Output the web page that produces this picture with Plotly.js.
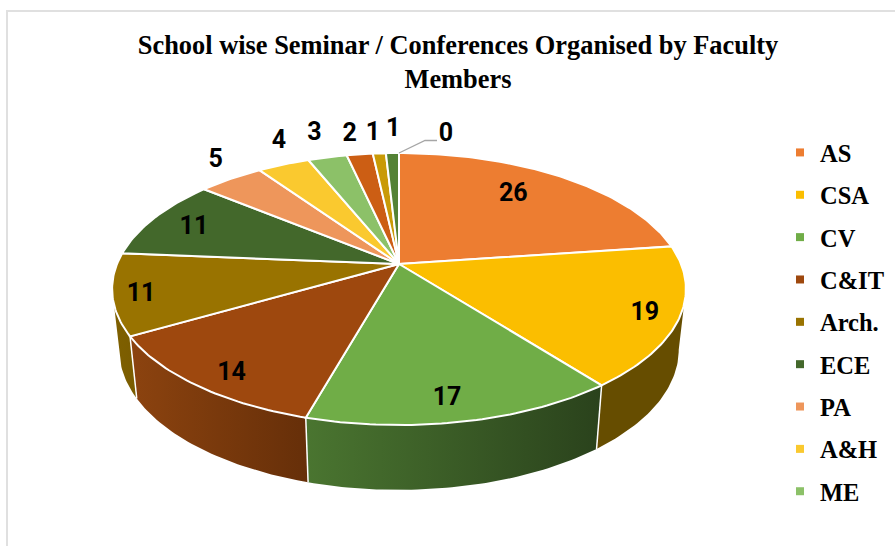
<!DOCTYPE html>
<html><head><meta charset="utf-8">
<script src="https://cdn.plot.ly/plotly-3.0.1.min.js"></script>
<style>html,body{margin:0;padding:0;background:#fff}#c{width:895px;height:546px}</style>
</head><body><div id="c"></div>
<script>
// ---- data ----
const chartTitle = "School wise Seminar / Conferences Organised by Faculty<br>Members";
const categories = ["AS","CSA","CV","C&IT","Arch.","ECE","PA","A&H","ME"];
const values = [26,19,17,14,11,11,5,4,3,2,1,1,0];
// ---- styling ----
const topColors = ["#ED7D31","#FBBE00","#70AD47","#9E480E","#997300","#43682B","#EE965B","#FAC92F","#8CC168","#CC5E14","#C99A06","#548235","#548235"];
const wallColors = {1:["#664D00","#664D00"],2:["#4A7530","#2A421C"],3:["#8C430F","#662F09"],4:["#7F6000","#7A5C00"]};
// label placement: [radius fraction, dx, dy]
const labelPlace = [[.72,-7,-4],[.9,-5,2],[.86,-7,3],[.87,5,6],[.89,-4,4],[.83,0,3],
 [1,-15,-18],[1,-4.5,-23],[1,-13,-24],[1,-10,-20],[1,-6.5,-20],[1,0.7,-23],[1,47,-18]];
// ---- projection of the tilted disc ----
const CX=399, CY=264, RX=282, RY=131.4, PERSP=0.184;
const BOTTOM_DY=60, BOTTOM_SX=0.975, BOTTOM_SY=1.03;
const total = values.reduce((a,b)=>a+b,0);
function proj(deg,f){
  const a=deg*Math.PI/180, u=f*Math.sin(a), v=-f*Math.cos(a), d=1-PERSP*v;
  return [RX*u/d, RY*v/d];
}
const topPt=(deg,f=1)=>{const p=proj(deg,f);return [CX+p[0],CY+p[1]];};
const botPt=(deg)=>{const p=proj(deg,1);return [CX+p[0]*BOTTOM_SX,CY+BOTTOM_DY+p[1]*BOTTOM_SY];};
function arc(fn,a0,a1){const n=Math.max(2,Math.ceil(Math.abs(a1-a0)));const r=[];for(let i=0;i<=n;i++)r.push(fn(a0+(a1-a0)*i/n));return r;}
// silhouette angles: where the disc outline is widest (cos a = -PERSP)
const SIL_R=Math.acos(-PERSP)*180/Math.PI, SIL_L=360-SIL_R;

let cum=0; const starts=[],ends=[],mids=[];
values.forEach(v=>{starts.push(cum/total*360);cum+=v;ends.push(cum/total*360);mids.push((starts[starts.length-1]+ends[ends.length-1])/2);});

const traces=[];
// side walls
const seamX=[],seamY=[];
Object.keys(wallColors).forEach(k=>{
  const i=+k, a0=Math.max(starts[i],SIL_R), a1=Math.min(ends[i],SIL_L);
  const pts=arc(topPt,a0,a1).concat(arc(botPt,a1,a0));
  pts.push(pts[0]);
  traces.push({type:"scatter",mode:"lines",x:pts.map(p=>p[0]),y:pts.map(p=>p[1]),fill:"toself",
    line:{width:0,color:wallColors[k][0]},
    fillgradient:{type:"horizontal",colorscale:[[0,wallColors[k][0]],[1,wallColors[k][1]]]},
    hoverinfo:"skip",showlegend:false});
  if(ends[i]<SIL_L){const a=topPt(ends[i]),b=botPt(ends[i]);
  seamX.push(a[0],b[0],null);seamY.push(a[1],b[1],null);}
});
traces.push({type:"scatter",mode:"lines",x:seamX,y:seamY,line:{color:"#fff",width:1.5},hoverinfo:"skip",showlegend:false});
// top faces
values.forEach((v,i)=>{
  if(v<=0)return;
  const pts=[[CX,CY]].concat(arc(topPt,starts[i],ends[i]));pts.push([CX,CY]);
  traces.push({type:"scatter",mode:"lines",x:pts.map(p=>p[0]),y:pts.map(p=>p[1]),fill:"toself",fillcolor:topColors[i],
    line:{color:"#fff",width:2},hoverinfo:"skip",showlegend:false});
});
// leader of the 0 label
const zeroAt=topPt(mids[12]);
traces.push({type:"scatter",mode:"lines",x:[zeroAt[0],zeroAt[0]+26,zeroAt[0]+38],y:[zeroAt[1],zeroAt[1]-12.5,zeroAt[1]-12.5],
  line:{color:"#A6A6A6",width:1.3},hoverinfo:"skip",showlegend:false});
// value labels
const lp=values.map((v,i)=>{const p=topPt(mids[i],labelPlace[i][0]);return [p[0]+labelPlace[i][1],p[1]+labelPlace[i][2]];});
traces.push({type:"scatter",mode:"text",x:lp.map(p=>p[0]),y:lp.map(p=>p[1]),text:values.map(v=>"<b>"+v+"</b>"),
  textposition:"middle center",textfont:{family:"Roboto",size:25,color:"#000"},hoverinfo:"skip",showlegend:false});
// legend entries
categories.forEach((c,i)=>{
  traces.push({type:"scatter",mode:"markers",x:[null],y:[null],name:"<b>"+c+"</b>",legendgroup:c,
    marker:{symbol:"square",size:8,color:topColors[i]},hoverinfo:"skip"});
});

const layout={
  width:895,height:546,margin:{l:0,r:0,t:0,b:0},paper_bgcolor:"#fff",plot_bgcolor:"#fff",
  xaxis:{range:[0,895],visible:false,fixedrange:true},
  yaxis:{range:[546,0],visible:false,fixedrange:true},
  title:{text:"<b>"+chartTitle.replace("<br>","</b><br><b>")+"</b>",x:458/895,xanchor:"center",y:1-54/546,yanchor:"middle",
    font:{family:"Liberation Serif",size:26.4,color:"#000"}},
  legend:{x:780/895,xanchor:"left",y:1-130/546,yanchor:"top",traceorder:"grouped",tracegroupgap:7.5,
    font:{family:"Liberation Serif",size:24.5,color:"#000"},bgcolor:"rgba(0,0,0,0)"},
  shapes:[{type:"rect",xref:"x",yref:"y",x0:7,y0:11,x1:930,y1:580,line:{color:"#E0E0E0",width:2},layer:"below"}],
  showlegend:true
};
Plotly.newPlot("c",traces,layout,{displayModeBar:false,staticPlot:true});
</script></body></html>
